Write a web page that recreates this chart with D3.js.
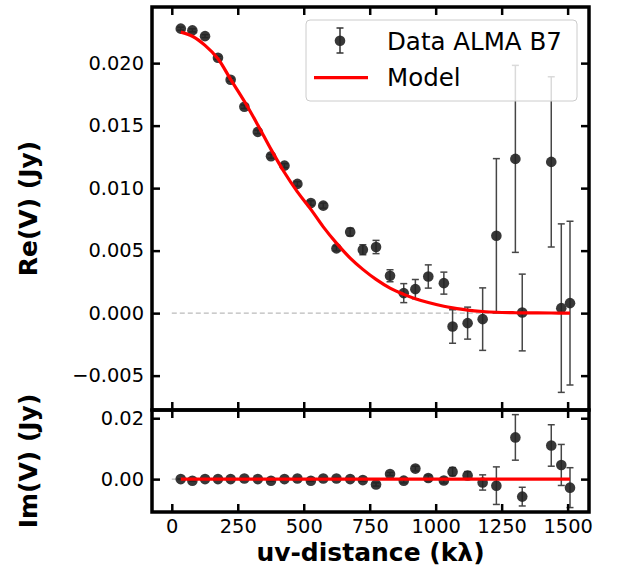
<!DOCTYPE html>
<html>
<head>
<meta charset="utf-8">
<script src="https://cdn.jsdelivr.net/npm/d3@7"></script>
<style>
  body { margin: 0; background: #fff; }
  text { font-family: "DejaVu Sans", sans-serif; }
</style>
</head>
<body>
<div id="chart"></div>
<script>
// uv-distance (k lambda) of each binned visibility
const uvDist = [34, 78, 126, 175, 223, 275, 326, 376, 427, 476, 527, 574, 624, 676, 724,
    774, 827, 879, 923, 972, 1031, 1064, 1121, 1178, 1230, 1302, 1328, 1438, 1476, 1509];
// real part (Jy)
const reData = [0.02276, 0.02262, 0.02216, 0.02043, 0.01867, 0.01651, 0.01450, 0.01255, 0.01180, 0.01034,
    0.00881, 0.00860, 0.00518, 0.00649, 0.00507, 0.00529, 0.00299, 0.00160, 0.00192, 0.00293,
    0.00240, -0.00107, -0.00080, -0.00048, 0.00619, 0.01234, 0.00005, 0.01210, 0.00040, 0.00080];
// imaginary part (Jy)
const imData = [0.0000, -0.00055, 0.0000, 0.0000, 0.0000, 0.00022, 0.0000, -0.00055, 0.0000, 0.00022,
    -0.00055, 0.00022, 0.00022, 0.0000, -0.00033, -0.00176, 0.00170, -0.00050, 0.00345, 0.00038,
    -0.00044, 0.00245, 0.00120, -0.00110, -0.00215, 0.01370, -0.00575, 0.01105, 0.00465, -0.00280];
// 1-sigma error (same for Re and Im)
const errData = [0.00012, 0.00012, 0.00012, 0.00012, 0.00012, 0.00014, 0.00014, 0.00015, 0.00016, 0.00018,
    0.00018, 0.00020, 0.00020, 0.00030, 0.00040, 0.00053, 0.00048, 0.00076, 0.00077, 0.00093,
    0.00088, 0.00134, 0.00128, 0.00250, 0.00617, 0.00748, 0.00307, 0.00681, 0.00674, 0.00655];
// model at the same uv-distances
const reModel = [0.02248, 0.02215, 0.02142, 0.02035, 0.01870, 0.01695, 0.01505, 0.01310, 0.01125, 0.00970,
    0.00830, 0.00690, 0.00560, 0.00440, 0.00350, 0.00270, 0.00200, 0.00150, 0.00115, 0.00085,
    0.00055, 0.00042, 0.00024, 0.00013, 0.00007, 0.00003, 0.00002, 0.00001, 0.00000, 0.00000];
const imModel = [0, 0, 0, 0, 0, 0, 0, 0, 0, 0, 0, 0, 0, 0, 0, 0, 0, 0, 0, 0, 0, 0, 0, 0, 0, 0, 0, 0, 0, 0];

const xTicks = [0, 250, 500, 750, 1000, 1250, 1500];
const reTicks = [-0.005, 0, 0.005, 0.01, 0.015, 0.02];
const imTicks = [0, 0.02];
const legendLabels = ["Data ALMA B7", "Model"];

const W = 617, H = 572;
const left = 152, right = 589;
const top1 = 7, bot1 = 410, top2 = 410, bot2 = 512;

const svg = d3.select("#chart").append("svg")
    .attr("width", W).attr("height", H);

const x = d3.scaleLinear().domain([-75, 1581]).range([left, right]);
const yRe = d3.scaleLinear().domain([-0.00775, 0.02449]).range([bot1, top1]);
const yIm = d3.scaleLinear().domain([-0.0108, 0.0227]).range([bot2, top2]);

const fmtRe = d3.format(".3f"), fmtIm = d3.format(".2f");
const tickFont = "19.4px";

function panel(y, yT, fmt, reVals, modelVals, errs, showX, id) {
    const g = svg.append("g");
    const [y0, y1] = y.range();

    g.append("clipPath").attr("id", id).append("rect")
        .attr("x", left).attr("y", y1).attr("width", right - left).attr("height", y0 - y1);
    const plot = g.append("g").attr("clip-path", `url(#${id})`);

    // zero reference
    plot.append("line")
        .attr("x1", x(0)).attr("x2", x(1509))
        .attr("y1", y(0)).attr("y2", y(0))
        .attr("stroke", "#bbb").attr("stroke-width", 1.2)
        .attr("stroke-dasharray", "5,3");

    // error bars
    const eb = plot.selectAll(".eb").data(uvDist).enter().append("g")
        .attr("stroke", "#333").attr("stroke-width", 1.5).attr("opacity", 0.9);
    eb.append("line")
        .attr("x1", d => x(d)).attr("x2", d => x(d))
        .attr("y1", (d, i) => y(reVals[i] - errs[i]))
        .attr("y2", (d, i) => y(reVals[i] + errs[i]));
    [-1, 1].forEach(s => {
        eb.append("line")
            .attr("x1", d => x(d) - 3.5).attr("x2", d => x(d) + 3.5)
            .attr("y1", (d, i) => y(reVals[i] + s * errs[i]))
            .attr("y2", (d, i) => y(reVals[i] + s * errs[i]));
    });

    plot.selectAll(".pt").data(uvDist).enter().append("circle")
        .attr("cx", d => x(d))
        .attr("cy", (d, i) => y(reVals[i]))
        .attr("r", 5.3)
        .attr("fill", "#222").attr("opacity", 0.9);

    plot.append("path")
        .datum(uvDist)
        .attr("fill", "none").attr("stroke", "red").attr("stroke-width", 3.2)
        .attr("d", d3.line()
            .x(d => x(d))
            .y((d, i) => y(modelVals[i]))
            .curve(d3.curveCatmullRom));

    // ticks, all pointing in
    const ax = (gen, tx, ty) => {
        const a = g.append("g").attr("transform", `translate(${tx},${ty})`).call(gen);
        a.select(".domain").remove();
        a.selectAll(".tick line").attr("stroke", "#000").attr("stroke-width", 2.5);
        a.selectAll("text").style("font-size", tickFont).attr("fill", "#000");
        return a;
    };
    ax(d3.axisLeft(y).tickValues(yT).tickFormat(d => fmt(d).replace("-", "\u2212"))
        .tickSizeInner(-8).tickSizeOuter(0).tickPadding(8), left, 0);
    ax(d3.axisRight(y).tickValues(yT).tickFormat("").tickSizeInner(-8).tickSizeOuter(0), right, 0);
    ax(d3.axisTop(x).tickValues(xTicks).tickFormat("").tickSizeInner(-8).tickSizeOuter(0), 0, y1);
    ax(d3.axisBottom(x).tickValues(xTicks).tickFormat(showX ? d3.format("d") : "")
        .tickSizeInner(-8).tickSizeOuter(0).tickPadding(7), 0, y0);

    g.append("rect")
        .attr("x", left).attr("y", y1).attr("width", right - left).attr("height", y0 - y1)
        .attr("fill", "none").attr("stroke", "#000").attr("stroke-width", 3.5);
}

panel(yRe, reTicks, fmtRe, reData, reModel, errData, false, "clipRe");
panel(yIm, imTicks, fmtIm, imData, imModel, errData, true, "clipIm");

// axis labels
svg.append("text")
    .attr("transform", `translate(37,${(top1 + bot1) / 2}) rotate(-90)`)
    .attr("text-anchor", "middle")
    .style("font-size", "25px").style("font-weight", "bold")
    .text("Re(V) (Jy)");
svg.append("text")
    .attr("transform", `translate(37,${(top2 + bot2) / 2}) rotate(-90)`)
    .attr("text-anchor", "middle")
    .style("font-size", "25px").style("font-weight", "bold")
    .text("Im(V) (Jy)");
svg.append("text")
    .attr("x", (left + right) / 2).attr("y", 561)
    .attr("text-anchor", "middle")
    .style("font-size", "25px").style("font-weight", "bold")
    .text("uv-distance (k\u03bb)");

// legend
const lg = svg.append("g");
lg.append("rect")
    .attr("x", 306).attr("y", 20).attr("width", 271).attr("height", 81).attr("rx", 4)
    .attr("fill", "#fff").attr("fill-opacity", 0.8)
    .attr("stroke", "#ccc").attr("stroke-width", 1);
const lgE = lg.append("g").attr("stroke", "#333").attr("stroke-width", 1.5);
lgE.append("line").attr("x1", 340).attr("x2", 340).attr("y1", 28).attr("y2", 53);
lgE.append("line").attr("x1", 336.5).attr("x2", 343.5).attr("y1", 28).attr("y2", 28);
lgE.append("line").attr("x1", 336.5).attr("x2", 343.5).attr("y1", 53).attr("y2", 53);
lg.append("circle").attr("cx", 340).attr("cy", 40.7).attr("r", 5.3).attr("fill", "#222").attr("opacity", 0.9);
lg.append("line").attr("x1", 314).attr("x2", 368).attr("y1", 77.7).attr("y2", 77.7)
    .attr("stroke", "red").attr("stroke-width", 3.2);
lg.selectAll(".lt").data(legendLabels).enter().append("text")
    .attr("x", 387).attr("y", (d, i) => i === 0 ? 49.5 : 86)
    .style("font-size", "24.5px")
    .text(d => d);
</script>
</body>
</html>
